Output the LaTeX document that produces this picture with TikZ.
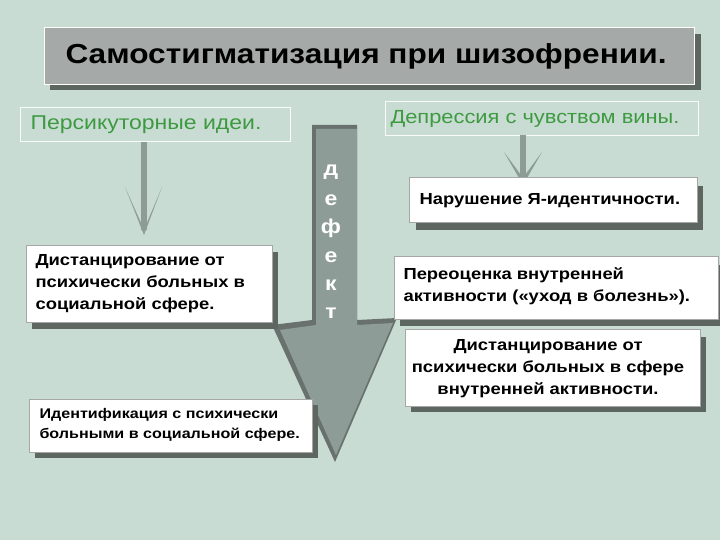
\documentclass[tikz,border=0pt]{standalone}
\usepackage{fontspec}
\setmainfont{Liberation Sans}
\newfontfamily\wide[FakeStretch=1.15]{Liberation Sans}
\definecolor{bg}{HTML}{C8DCD3}
\definecolor{grn}{HTML}{3E9A40}
\definecolor{ttl}{HTML}{A5AAA8}
\definecolor{shd}{HTML}{5E6662}
\definecolor{arr}{HTML}{8E9C97}
\begin{document}
\begin{tikzpicture}[x=1pt,y=-1pt,
 box/.style={draw=gray!70,fill=white,line width=1pt,inner sep=0pt},
 txt/.style={anchor=north west,align=left,font=\wide\fontsize{16}{22}\selectfont\bfseries}]
\fill[bg] (0,0) rectangle (720,540);
\useasboundingbox (0,0) rectangle (720,540);
% title
\fill[shd] (50,34) rectangle (701,90);
\draw[white,fill=ttl] (44,27) rectangle (694,84);
\node[font=\wide\fontsize{27.5}{30}\selectfont\bfseries] (title) at (366,56) {Самостигматизация при шизофрении.};
% green labels
\draw[white!90!bg] (20,107) rectangle (290,141);
\node[text=grn,font=\wide\fontsize{20}{22}\selectfont] (pers) at (146,125) {Персикуторные идеи.};
\draw[white!90!bg] (385,101) rectangle (698,135);
\node[text=grn,font=\wide\fontsize{19}{22}\selectfont] (depr) at (535,119) {Депрессия с чувством вины.};
% thin arrows
\fill[arr] (141,142) rectangle (147,230);
\fill[arr] (125,187) -- (144,235) -- (162,187) -- (146,225) -- (142,225) -- cycle;
\fill[arr] (520,135) rectangle (526,180);
\fill[arr] (504,152) -- (523,185) -- (542,152) -- (525,175) -- (521,175) -- cycle;
% big arrow
\fill[shd!80!arr] (312,125) -- (312,320) -- (272,325) -- (335,462) -- (397,318) -- (357,320) -- (357,125) -- cycle;
\fill[arr] (316,129) -- (316,325) -- (280,330) -- (336,455) -- (393,323) -- (357,325) -- (357,129) -- cycle;
\foreach \l [count=\i] in {д,е,ф,е,к,т}
  \node[white,font=\wide\fontsize{20}{22}\selectfont\bfseries] (d\i) at (331,144+28.2*\i) {\l};
% boxes
\fill[shd] (32,252) rectangle (278,329);
\draw[box] (26,245) rectangle (272,322);
\node[txt] (b1) at (32,251) {Дистанцирование от\\психически больных в\\социальной сфере.};
\fill[shd] (35,405) rectangle (318,458);
\draw[box] (29,399) rectangle (312,452);
\node[txt,font=\wide\fontsize{14}{20}\selectfont\bfseries] (b2) at (36,405) {Идентификация с психически\\больными в социальной сфере.};
\fill[shd] (416,186) rectangle (703,230);
\draw[box] (409,178) rectangle (697,223);
\node[txt] (b3) at (416,190) {Нарушение Я-идентичности.};
\fill[shd] (400,265) rectangle (722,326);
\draw[box] (394,256) rectangle (718,319);
\node[txt] (b4) at (400,264) {Переоценка внутренней\\активности («уход в болезнь»).};
\fill[shd] (411,337) rectangle (706,412);
\draw[box] (405,329) rectangle (700,406);
\node[txt,align=center,anchor=north] (b5) at (548,336) {Дистанцирование от\\психически больных в сфере\\внутренней активности.};
\end{tikzpicture}
\end{document}
